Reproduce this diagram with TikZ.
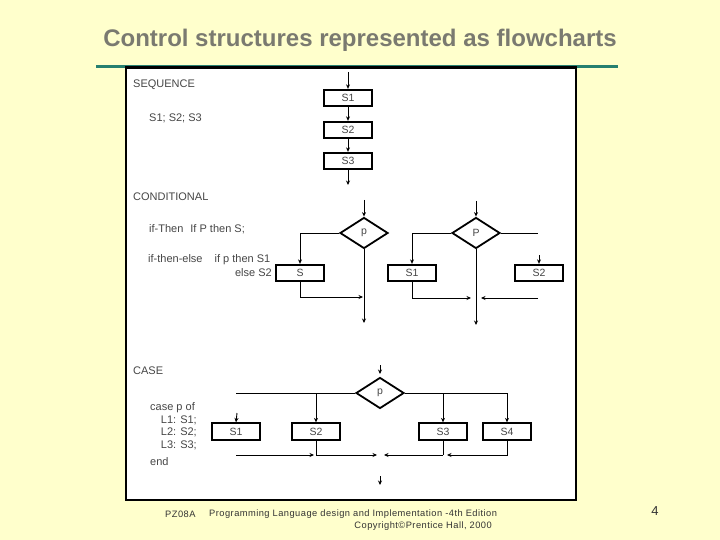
\documentclass[tikz,border=0pt]{standalone}
\usepackage{fontspec}
\setmainfont{Liberation Sans}
\usetikzlibrary{arrows.meta,shapes.geometric,calc}
\definecolor{bg}{RGB}{255,255,204}
\definecolor{titlegray}{RGB}{122,122,112}
\definecolor{tealline}{RGB}{38,128,112}
\definecolor{scantext}{RGB}{70,70,70}
\newfontfamily\footfont[LetterSpace=5]{Liberation Sans}
\begin{document}
\begin{tikzpicture}[x=1pt,y=-1pt,
  stmt/.style={draw, line width=1.8pt, minimum width=48pt, minimum height=16.5pt, inner sep=0pt, font=\fontsize{10.5}{11}\selectfont, text=scantext},
  cond/.style={diamond, draw, line width=1.8pt, minimum width=48pt, minimum height=31pt, inner sep=0pt, font=\fontsize{10.5}{11}\selectfont, text=scantext},
  flow/.style={line width=0.9pt},
  arr/.style={flow, -{Stealth[length=4.5pt,width=4pt]}},
  lbl/.style={font=\fontsize{11}{12}\selectfont, text=scantext, inner sep=0pt},
  foot/.style={font=\footfont\fontsize{9.3}{10}\selectfont, text=black!80, inner sep=0pt}
]
\useasboundingbox[fill=bg] (0,0) rectangle (720,540);
% title
\node[font=\fontsize{24}{28}\bfseries\selectfont, text=titlegray, inner sep=0pt] (title) at (360,40) {Control structures represented as flowcharts};
\draw[tealline, line width=3pt] (96,66.5) -- (618,66.5);
\draw[fill=white, line width=2.5pt] (126,67.5) rectangle (576,500);

% SEQUENCE
\node[lbl, anchor=west] (lseq) at (133,85) {SEQUENCE};
\node[lbl, anchor=west] (tseq) at (149,118) {S1; S2; S3};
\node[stmt] (s1) at (348,98) {S1};
\node[stmt] (s2) at (348,130) {S2};
\node[stmt] (s3) at (348,161) {S3};
\coordinate (seqin) at (348,72);
\coordinate (seqout) at (348,185);
\draw[arr] (seqin) -- (s1);
\draw[arr] (s1) -- (s2);
\draw[arr] (s2) -- (s3);
\draw[arr] (s3) -- (seqout);

% CONDITIONAL
\node[lbl, anchor=west] (lcond) at (133,197) {CONDITIONAL};
\node[lbl, anchor=west] (tif) at (149,229) {if-Then\hspace{7pt}If P then S;};
\node[lbl, anchor=west] (tife) at (148,260) {if-then-else\hspace{12pt}if p then S1};
\node[lbl, anchor=east] (telse) at (272,273) {else S2};

\node[cond] (p1) at (364,233) {p};
\coordinate (p1in) at (364,200);
\coordinate (p1out) at (364,323);
\coordinate (p1j) at (363,297);
\node[stmt] (cs) at (300,273) {S};
\draw[arr] (p1in) -- (p1);
\draw[arr] (p1.west) -| (cs.north);
\draw[arr] (p1.south) -- (p1out);
\draw[arr] (cs.south) |- (p1j);

\node[cond] (p2) at (476,233) {P};
\coordinate (p2in) at (476,201);
\coordinate (p2out) at (476,325);
\coordinate (p2r) at (538,233);
\coordinate (c2a) at (539,255);
\coordinate (p2jl) at (471,298);
\coordinate (p2jr) at (481,298);
\coordinate (p2jrs) at (538,298);
\node[stmt] (c1) at (412,273) {S1};
\node[stmt] (c2) at (539,273) {S2};
\draw[arr] (p2in) -- (p2);
\draw[arr] (p2.west) -| (c1.north);
\draw[flow] (p2.east) -- (p2r);
\draw[arr] (c2a) -- (c2.north);
\draw[arr] (c1.south) |- (p2jl);
\draw[arr] (p2jrs) -- (p2jr);
\draw[arr] (p2.south) -- (p2out);

% CASE
\node[lbl, anchor=west] (lcase) at (133,371) {CASE};
\node[lbl, anchor=west] (tc0) at (150,408) {case p of};
\node[lbl, anchor=east] (tc1) at (197,420) {L1: S1;};
\node[lbl, anchor=east] (tc2) at (197,432) {L2: S2;};
\node[lbl, anchor=east] (tc3) at (197,445) {L3: S3;};
\node[lbl, anchor=west] (tc4) at (150,462) {end};

\node[cond] (p3) at (380,393) {p};
\node[stmt] (k1) at (236,431.5) {S1};
\node[stmt] (k2) at (316,431.5) {S2};
\node[stmt] (k3) at (443,431.5) {S3};
\node[stmt] (k4) at (507,431.5) {S4};
\coordinate (p3a) at (380,365);
\coordinate (p3b) at (380,374);
\coordinate (k1a) at (237,413);
\coordinate (m) at (380,455);
\coordinate (mout1) at (380,476);
\coordinate (mout2) at (380,485);
\draw[arr] (p3a) -- (p3b);
\draw[flow] (p3.west) -- (k1.north |- p3.west);
\draw[flow] (p3.east) -- (k4.north |- p3.east);
\draw[arr] (k1a) -- (k1.north);
\draw[arr] (k2.north |- p3.west) -- (k2.north);
\draw[arr] (k3.north |- p3.east) -- (k3.north);
\draw[arr] (k4.north |- p3.east) -- (k4.north);
\draw[arr] (k1.south |- m) -- ($(k2.south |- m)+(-2,0)$);
\draw[flow] (k2.south) -- (k2.south |- m);
\draw[arr] (k2.south |- m) -- ($(m)+(-3,0)$);
\draw[flow] (k3.south) -- (k3.south |- m);
\draw[arr] (k3.south |- m) -- ($(m)+(4,0)$);
\draw[arr] (k4.south) |- ($(k3.south |- m)+(4,0)$);
\draw[arr] (mout1) -- (mout2);

% footer
\node[foot, anchor=west] (f1) at (165,514) {PZ08A};
\node[foot, anchor=west] (f2) at (209,514) {Programming Language design and Implementation -4th Edition};
\node[foot, anchor=east] (f3) at (492,526) {Copyright©Prentice Hall, 2000};
\node[font=\fontsize{13}{14}\selectfont, text=black!80, inner sep=0pt] (pg) at (655,511) {4};
\end{tikzpicture}
\end{document}
